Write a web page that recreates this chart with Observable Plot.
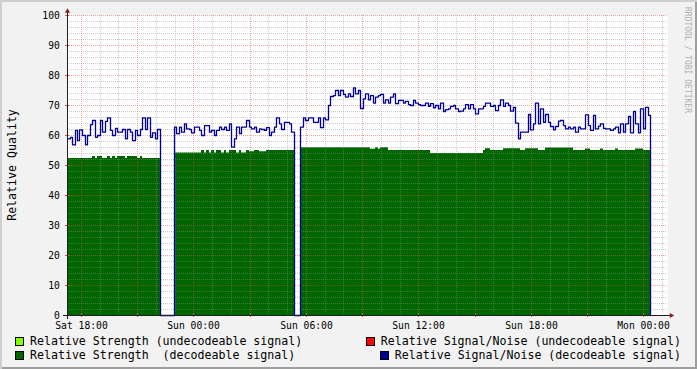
<!DOCTYPE html>
<html><head><meta charset="utf-8">
<script src="https://cdn.jsdelivr.net/npm/d3@7"></script>
<script src="https://cdn.jsdelivr.net/npm/@observablehq/plot@0.6"></script>
<style>
html,body{margin:0;padding:0;background:#f2f2f2;}
#wrap{position:relative;width:697px;height:369px;background:#f2f2f2;box-shadow:inset 2px 2px 0 #cfcfcf,inset -2px -2px 0 #9e9e9e;overflow:hidden;font-family:"DejaVu Sans Mono",monospace;color:#000;}
#chart{position:absolute;left:0;top:0;}
.ylab{position:absolute;left:12px;top:165px;transform:translate(-50%,-50%) rotate(-90deg);font-size:11.6px;white-space:nowrap;line-height:12px;}
.wm{position:absolute;left:683px;top:7px;writing-mode:vertical-rl;font-size:8px;color:#b0b0b0;white-space:nowrap;line-height:9px;}
.leg{position:absolute;font-size:11.6px;line-height:14px;height:14px;white-space:pre;display:flex;align-items:center;}
.sw{width:9px;height:9px;box-sizing:border-box;border:1px solid #000;margin-right:6px;flex:none;}
</style></head>
<body>
<div id="wrap">
  <div id="chart"></div>
  <div class="ylab">Relative Quality</div>
  <div class="wm">RRDTOOL / TOBI OETIKER</div>
</div>
<script>
// ---- data ----
const stepMinutes = 8;
const segStarts = ["2013-06-01T17:16:00Z", "2013-06-01T22:58:00Z", "2013-06-02T05:43:00Z"];

const seg1Blue = [58.9,59.4,56.9,61.7,58.3,61.9,60,56.9,60,63.6,65,59.4,60,65,61.1,64.7,65.9,61.7,60,62.4,61.1,61.1,62,58.9,62,61.1,58.3,61.7,60,62,65.9,62,65.9,59.4,60.9,58.9,62];
const seg1Green = [52.3,52.3,52.3,52.3,52.3,52.3,52.3,52.3,52.3,52.3,53,52.3,53,53,52.3,52.3,53,52.3,53,52.3,53,53,53,52.3,53,53,53,53,52.3,53,52.3,52.3,52.3,52.3,52.3,52.3,52.3];

const seg2Blue = [62.8,60.6,62.8,61.1,63.9,62.2,62,60.9,62.8,62.8,61.7,60,63.3,63.3,61.1,61.7,60,61.7,62.8,62,62.8,61.7,63.9,56.1,58.9,62.8,60.6,62.8,62.8,65,62.8,62.2,62.8,61.1,62.2,62,
  61.7,62.6,60,61.1,62.8,65.9,63.9,62,64.4,64.4,63.9,61.1];
const seg2Green = [54.2,54.2,54.2,54.2,54.2,54.2,54.2,54.2,54.2,54.2,54.2,55,54.2,55,54.2,55,54.2,55,55,54.2,55,54.2,55,55,55,54.2,55,54.2,54.2,55,54.6,54.6,55,55,54.6,54.6,54.6,
  55,55,55,55,55,55,55,55,55,55,55];

const seg3Blue = [62.8,65.9,65,65.9,65.9,64.4,64.4,65.9,62.6,65.9,65.2,70,73,73.3,75,73.3,75,73.7,72.8,73.9,73,75.9,73.9,75,69,
  72.2,73.9,71.9,73.3,70.8,72.8,73.3,73.7,70.8,71.9,70.8,72.8,73.9,70.6,71.7,71.7,70.8,71.4,70.3,70,71.7,70.8,70.3,70,70,70.8,69.7,70.6,69.2,70,68.9,70.8,68,68.6,68.9,69.7,70,68.9,68,
  68.1,68.9,70.3,68.9,70.3,68.9,67.2,68.9,68.9,69.7,70.8,70.8,69.7,70,68.3,70,71.9,69.7,70.8,70,68.1,69.4,64.1,58.9,61.1,61.1,61.1,67,61.9,63.9,70.8,63.9,68.9,64.4,67,64.4,63,61.9,63,64.8,
  65,63.3,62.2,62.8,62.2,62.8,61.1,62.8,62.2,62.2,66.9,63.3,61.7,66.7,62.2,63.1,63.9,62.4,62.2,62.2,61.7,62.2,62.8,60.9,63.9,61.1,63.9,66.4,60.9,68,63.9,60.9,68.9,62.2,69.4,66.7];
const seg3Green = [55.9,55.9,55.9,55.9,55.9,55.9,55.9,55.9,55.9,55.9,55.9,55.9,55.9,55.9,55.9,55.9,55.9,55.9,55.9,55.9,55.9,55.9,55.9,55.9,55.9,55.9,55.9,55.9,55.4,55.4,55.9,55.4,55.9,55.9,55.9,
  55,55,55,55,55,55,55,55,55,55,55,55,55,55,55,55,55,
  54,54,54,54,54,54,54,54,54,54,54,54,54,54,54,54,54,54,54,54,54,
  55,55.6,55.6,55,55,55,55,55,55.6,55.6,55.6,55.6,55.6,55.6,55.6,55,55,55.6,55.6,55.6,55.6,55.6,55,55,55,
  55.8,55.8,55.8,55.8,55.8,55.8,55.8,55.8,55.8,55.8,55.8,55,55,55,55,55,55.5,55.5,55,55,55,55,55.5,55,55,55,55,55,55.5,55,55,55,55,55,55,55,55.5,55.5,55.5,55,55,55];

const xDomainIso = ["2013-06-01T17:16:00Z", "2013-06-03T01:16:00Z"];
const xTickTimes = ["2013-06-01T18:00:00Z","2013-06-02T00:00:00Z","2013-06-02T06:00:00Z","2013-06-02T12:00:00Z","2013-06-02T18:00:00Z","2013-06-03T00:00:00Z"];
const xTickLabels = ["Sat 18:00","Sun 00:00","Sun 06:00","Sun 12:00","Sun 18:00","Mon 00:00"];
const yTicks = [0,10,20,30,40,50,60,70,80,90,100];

const legendLabels = ["Relative Strength (undecodeable signal)","Relative Signal/Noise (undecodeable signal)","Relative Strength  (decodeable signal)","Relative Signal/Noise (decodeable signal)"];
const legendColors = ["#80ff00","#ff0000","#006600","#000099"];

// ---- build ----
const STEP = stepMinutes * 60000;
const segBlue = [seg1Blue, seg2Blue, seg3Blue];
const segGreen = [seg1Green, seg2Green, seg3Green];
const segs = segStarts.map((s, k) => {
  const t0 = new Date(s).getTime();
  const rows = segBlue[k].map((b, i) => ({t: new Date(t0 + i * STEP), blue: b, green: segGreen[k][i], seg: k}));
  const n = rows.length;
  return {start: new Date(t0), end: new Date(t0 + n * STEP), rows, lastBlue: segBlue[k][n-1], lastGreen: segGreen[k][n-1]};
});
const areaRows = [];
const lineRows = [];
segs.forEach((s, k) => {
  s.rows.forEach(r => { areaRows.push(r); lineRows.push({t: r.t, v: r.blue}); });
  areaRows.push({t: s.end, green: s.lastGreen, seg: k});
  lineRows.push({t: s.end, v: s.lastBlue});
  lineRows.push({t: s.end, v: 0});
  if (k < segs.length - 1) lineRows.push({t: segs[k+1].start, v: 0});
});

const xDomain = xDomainIso.map(d => new Date(d));
const tickDates = xTickTimes.map(d => new Date(d));
const labelMap = new Map(tickDates.map((d, i) => [+d, xTickLabels[i]]));
const hours = d3.utcHour.range(xDomain[0], xDomain[1]);
const majorX = hours.filter(d => d.getUTCHours() % 3 === 0);
const minorX = hours.filter(d => d.getUTCHours() % 3 !== 0);
const majorY = yTicks.filter(v => v > 0);
const minorY = d3.range(2, 100, 2).filter(v => v % 10 !== 0);

const gridC = "#8f8f8f", mgridC = "#de4f4f", axisC = "#1f1f1f", arrowC = "#801f1f";

const chart = Plot.plot({
  width: 697, height: 332,
  marginLeft: 67, marginRight: 30, marginTop: 15, marginBottom: 17,
  style: {background: "transparent", fontFamily: "DejaVu Sans Mono", fontSize: "9.7px", color: "#000", overflow: "visible"},
  x: {type: "utc", domain: xDomain, axis: null, round: true, label: null},
  y: {domain: [0, 100], axis: null, label: null},
  marks: [
    Plot.frame({fill: "#ffffff", stroke: "none"}),
    Plot.areaY(areaRows, {x: "t", y: "green", z: "seg", curve: "step-after", fill: "#006600"}),
    Plot.ruleX(minorX, {stroke: gridC, strokeOpacity: 0.45, strokeDasharray: "1,1"}),
    Plot.ruleY(minorY, {stroke: gridC, strokeOpacity: 0.45, strokeDasharray: "1,1"}),
    Plot.ruleX(majorX, {stroke: mgridC, strokeOpacity: 0.5, strokeDasharray: "1,1"}),
    Plot.ruleY(majorY, {stroke: mgridC, strokeOpacity: 0.5, strokeDasharray: "1,1"}),
    Plot.line(lineRows, {x: "t", y: "v", curve: "step-after", stroke: "#000099", strokeWidth: 1.3}),
    Plot.ruleX(majorX, {y1: 0, y2: 0, insetTop: -2, insetBottom: -2, stroke: mgridC}),
    Plot.ruleY(majorY, {x1: () => xDomain[0], x2: () => xDomain[0], insetLeft: -2, insetRight: -2, stroke: mgridC}),
    Plot.ruleY([0], {insetLeft: -4, insetRight: -4, stroke: axisC}),
    Plot.ruleX([xDomain[0]], {insetTop: -4, insetBottom: -4, stroke: axisC}),
    Plot.dot([0], {frameAnchor: "top-left", dy: -4.2, symbol: "triangle", r: 1.9, fill: arrowC, stroke: "none"}),
    Plot.dot([0], {frameAnchor: "bottom-right", dx: 3.8, symbol: "triangle", r: 1.9, rotate: 90, fill: arrowC, stroke: "none"}),
    Plot.axisX({ticks: tickDates, tickFormat: d => labelMap.get(+d), tickSize: 0, tickPadding: 6.4, fill: "#000", label: null}),
    Plot.axisY({ticks: yTicks, tickSize: 0, tickPadding: 7.7, fill: "#000", label: null})
  ]
});
document.getElementById("chart").appendChild(chart);

// legend
const wrap = document.getElementById("wrap");
const legPos = [
  {left: "15px", top: 334}, {right: "16px", top: 334},
  {left: "15px", top: 348}, {right: "16px", top: 348}
];
legendLabels.forEach((lab, i) => {
  const d = document.createElement("div");
  d.className = "leg";
  d.style.top = legPos[i].top + "px";
  if (legPos[i].left) d.style.left = legPos[i].left; else d.style.right = legPos[i].right;
  const sw = document.createElement("span");
  sw.className = "sw";
  sw.style.background = legendColors[i];
  const tx = document.createElement("span");
  tx.textContent = lab;
  d.appendChild(sw); d.appendChild(tx);
  wrap.appendChild(d);
});
</script>
</body></html>
